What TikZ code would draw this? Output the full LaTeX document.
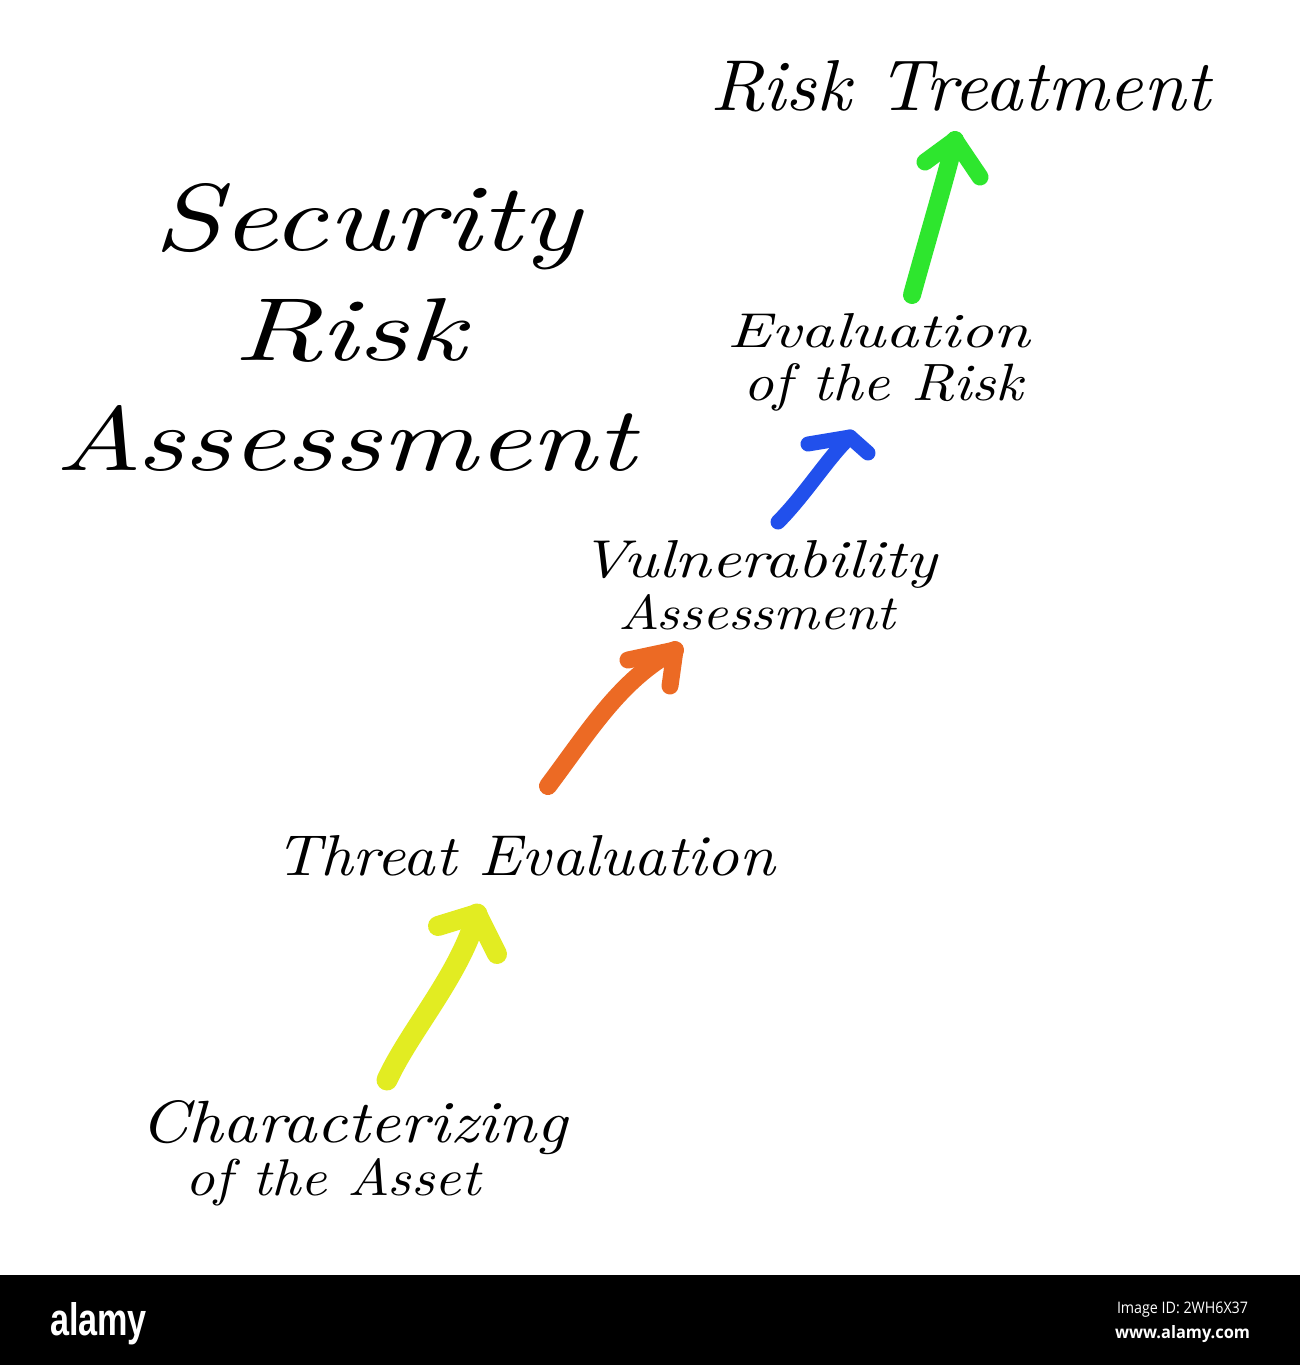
\documentclass[tikz,border=0pt]{standalone}
\usepackage{fontspec}
\usepackage{graphicx}
\newfontfamily\alamyfont{Liberation Sans}
\newfontfamily\idfont{Open Sans}
\newcommand\hw[3]{\resizebox{#1pt}{#2pt}{\itshape #3}}
\definecolor{ayellow}{RGB}{226,236,34}
\definecolor{aorange}{RGB}{236,106,36}
\definecolor{ablue}{RGB}{33,80,236}
\definecolor{agreen}{RGB}{46,230,46}
\begin{document}
\begin{tikzpicture}[x=1pt,y=-1pt,
  hand/.style={anchor=base west, inner sep=0pt, outer sep=0pt},
  brush/.style={draw=#1, line cap=round, line join=round},
  wm/.style={anchor=base west, inner sep=0pt, outer sep=0pt, text=white}]
\fill[white] (0,0) rectangle (1300,1365);
\useasboundingbox (0,0) rectangle (1300,1365);

% title
\node[hand] (t1) at (153,250) {\hw{427}{67}{Security}};
\node[hand] (t2) at (233,360) {\hw{232}{62}{Risk}};
\node[hand] (t3) at (55,470) {\hw{580}{65}{Assessment}};

% stages
\node[hand] (s5) at (710,110) {\hw{500}{50}{Risk Treatment}};
\node[hand] (s4a) at (727,347) {\hw{303}{34}{Evaluation}};
\node[hand] (s4b) at (743,400) {\hw{280}{37}{of the Risk}};
\node[hand] (s3a) at (580,577) {\hw{357}{37}{Vulnerability}};
\node[hand] (s3b) at (618,629) {\hw{277}{35}{Assessment}};
\node[hand] (s2) at (275,875) {\hw{500}{40}{Threat Evaluation}};
\node[hand] (s1a) at (140,1142) {\hw{427}{42}{Characterizing}};
\node[hand] (s1b) at (185,1195) {\hw{295}{37}{of the Asset}};

% arrow coordinates
\coordinate (yT) at (387,1080); \coordinate (yH) at (477,914);
\coordinate (yL) at (438,926);  \coordinate (yR) at (497,954);
\coordinate (oT) at (548,786);  \coordinate (oH) at (675,650);
\coordinate (oL) at (628,660);  \coordinate (oR) at (670,686);
\coordinate (bT) at (778,522);  \coordinate (bH) at (850,437);
\coordinate (bL) at (808,444);  \coordinate (bR) at (868,453);
\coordinate (gT) at (912,295);  \coordinate (gH) at (955,140);
\coordinate (gL) at (925,162);  \coordinate (gR) at (980,177);

% yellow
\draw[brush=ayellow, line width=21] (yT) .. controls (410,1030) and (460,975) .. (yH);
\draw[brush=ayellow, line width=20] (yL) -- (yH) -- (yR);
% orange
\draw[brush=aorange, line width=18] (oT) .. controls (590,730) and (620,680) .. (oH);
\draw[brush=aorange, line width=17] (oL) -- (oH) -- (oR);
% blue
\draw[brush=ablue, line width=15] (bT) .. controls (805,495) and (830,455) .. (bH);
\draw[brush=ablue, line width=15] (bL) -- (bH) -- (bR);
% green
\draw[brush=agreen, line width=18] (gT) .. controls (930,230) and (945,180) .. (gH);
\draw[brush=agreen, line width=17] (gL) -- (gH) -- (gR);

% watermark bar
\fill[black] (0,1275) rectangle (1300,1365);
\node[wm] (w1) at (50,1335) {\resizebox{97pt}{33pt}{\alamyfont\bfseries alamy}};
\node[wm] (w2) at (1117,1313) {\resizebox{131pt}{11.5pt}{\idfont Image ID: 2WH6X37}};
\node[wm] (w3) at (1115,1338) {\resizebox{135pt}{13pt}{\idfont\bfseries www.alamy.com}};
\end{tikzpicture}
\end{document}
